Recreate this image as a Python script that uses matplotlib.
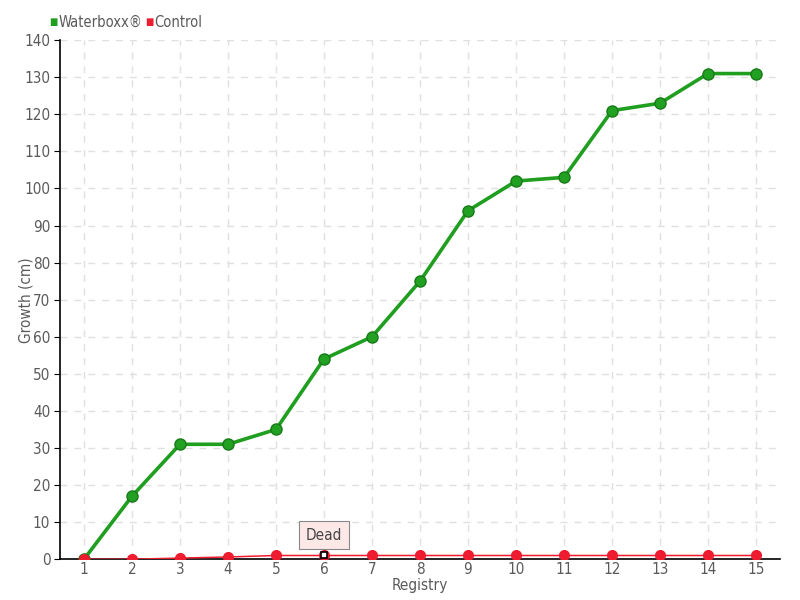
import matplotlib
matplotlib.use("Agg")
import matplotlib.pyplot as plt

# data
registry = list(range(1, 16))
waterboxx = [0, 17, 31, 31, 35, 54, 60, 75, 94, 102, 103, 121, 123, 131, 131]
control = [0, 0, 0.3, 0.6, 1, 1, 1, 1, 1, 1, 1, 1, 1, 1, 1]
y_ticks = list(range(0, 141, 10))

plt.rcParams['font.family'] = ['DejaVu Sans']
plt.rcParams['font.stretch'] = 'condensed'
plt.rcParams['font.weight'] = 'light'
txt_col = '#5a5a5a'

fig = plt.figure(figsize=(8, 6), dpi=100)
ax = fig.add_axes([0.075, 0.068, 0.9, 0.865])

ax.plot(registry, waterboxx, color='#1f9e1f', lw=2.6, marker='o', ms=8,
        mfc='#22a022', mec='#187a18', mew=1, zorder=3, label='Waterboxx®')
ax.plot(registry, control, color='#ee1c2e', lw=1.1, marker='o', ms=7,
        mfc='#ee1c2e', mec='#ee1c2e', zorder=4, label='Control')

# "Dead" marker and tooltip on control point 6
ax.plot(6, control[5], marker='s', ms=5, mfc='white', mec='black', mew=1.2, zorder=5)
ax.annotate('Dead', xy=(6, control[5]), xytext=(6, 6.5), ha='center', va='center',
            fontsize=11, color='#444444',
            bbox=dict(boxstyle='square,pad=0.45', fc='#fde8e8', ec='#888888', lw=0.8),
            zorder=6)

ax.set_xlim(0.5, 15.5)
ax.set_ylim(0, 140)
ax.set_xticks(registry)
ax.set_yticks(y_ticks)
ax.tick_params(axis='both', labelsize=11, colors='black', labelcolor=txt_col, length=4)
ax.tick_params(axis='x', length=0, pad=2)
ax.tick_params(axis='y', pad=3)
ax.grid(True, ls=(0, (5, 5)), color='#e0e0e0', lw=1)
ax.set_axisbelow(True)
for s in ['top', 'right']:
    ax.spines[s].set_visible(False)
ax.spines['left'].set_linewidth(1.2)
ax.spines['bottom'].set_linewidth(1.2)

ax.set_xlabel('Registry', fontsize=11, color=txt_col)
ax.set_ylabel('Growth (cm)', fontsize=11, color=txt_col)
ax.xaxis.set_label_coords(0.5, -0.036)
ax.yaxis.set_label_coords(-0.037, 0.5)

# legend squares
fig.text(0.061, 0.963, '■', color='#1f9e1f', fontsize=7, va='center')
fig.text(0.073, 0.963, 'Waterboxx®', color=txt_col, fontsize=10.5, va='center')
fig.text(0.181, 0.963, '■', color='#ee1c2e', fontsize=7, va='center')
fig.text(0.193, 0.963, 'Control', color=txt_col, fontsize=10.5, va='center')

fig.savefig('out.png', dpi=100)
